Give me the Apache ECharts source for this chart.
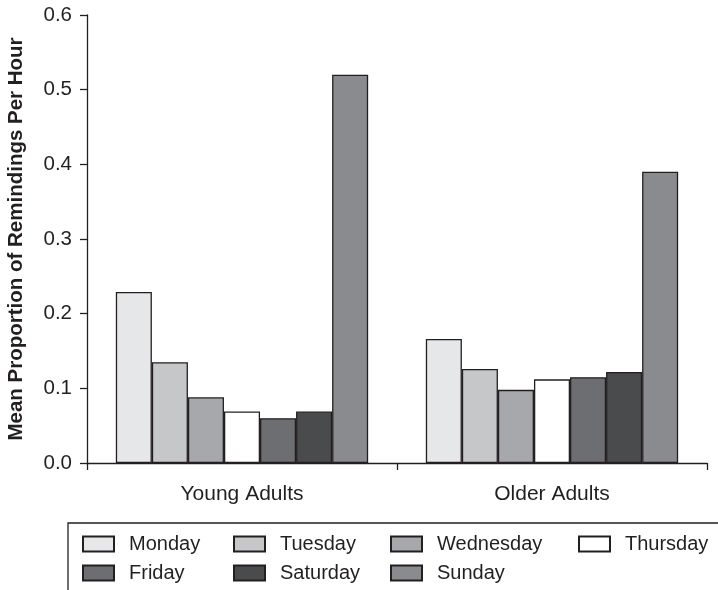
<!DOCTYPE html>
<html>
<head>
<meta charset="utf-8">
<script src="https://cdn.jsdelivr.net/npm/echarts@6/dist/echarts.min.js"></script>
<style>html,body{margin:0;padding:0;background:#fff}#c{width:718px;height:590px}</style>
</head>
<body>
<div id="c"></div>
<script>
const categories = ['Young Adults', 'Older Adults'];
const days = ['Monday', 'Tuesday', 'Wednesday', 'Thursday', 'Friday', 'Saturday', 'Sunday'];
const youngAdults = [0.229, 0.135, 0.088, 0.069, 0.060, 0.069, 0.520];
const olderAdults = [0.166, 0.126, 0.098, 0.112, 0.115, 0.122, 0.390];
const yTicks = ['0.0', '0.1', '0.2', '0.3', '0.4', '0.5', '0.6'];
const dayColors = ['#e6e7e9', '#c6c7c9', '#a7a8ab', '#ffffff', '#6d6e71', '#4a4b4d', '#8a8b8e'];

const FONT = 'Liberation Sans, Arial, Helvetica, sans-serif';
const INK = '#231f20';

const series = days.map((d, i) => ({
  name: d,
  type: 'bar',
  data: [youngAdults[i], olderAdults[i]],
  barGap: '0%',
  barCategoryGap: '18.6%',
  itemStyle: { color: dayColors[i], borderColor: INK, borderWidth: 1.3 },
  emphasis: { disabled: true }
}));

const legendCols = [['Monday', 'Friday'], ['Tuesday', 'Saturday'], ['Wednesday', 'Sunday'], ['Thursday']];
const legendLeft = [82, 233, 390, 578];
const legends = legendCols.map((cols, k) => ({
  orient: 'vertical',
  left: legendLeft[k],
  top: 534,
  icon: 'rect',
  itemWidth: 31,
  itemHeight: 15,
  itemGap: 9,
  selectedMode: false,
  padding: 0,
  data: cols,
  textStyle: { fontFamily: FONT, fontSize: 20, lineHeight: 20, color: INK, padding: [0, 0, 0, 10] }
}));

const chart = echarts.init(document.getElementById('c'), null, { renderer: 'canvas' });
chart.setOption({
  animation: false,
  backgroundColor: '#fff',
  grid: { left: 87, right: 11, top: 15, bottom: 127, containLabel: false, outerBoundsMode: 'none' },
  xAxis: {
    type: 'category',
    data: categories,
    axisLine: { lineStyle: { color: INK, width: 1.3 } },
    axisTick: { show: true, length: 7, lineStyle: { color: INK, width: 1.3 } },
    axisLabel: { fontFamily: FONT, fontSize: 21, color: INK, margin: 21 }
  },
  yAxis: {
    type: 'value',
    min: 0,
    max: 0.6,
    interval: 0.1,
    name: 'Mean Proportion of Remindings Per Hour',
    nameLocation: 'middle',
    nameGap: 60,
    nameTextStyle: { fontFamily: FONT, fontSize: 20.5, fontWeight: 'bold', color: INK },
    splitLine: { show: false },
    axisLine: { show: true, lineStyle: { color: INK, width: 1.3 } },
    axisTick: { show: true, length: 7, lineStyle: { color: INK, width: 1.3 } },
    axisLabel: {
      fontFamily: FONT, fontSize: 20.5, color: INK, margin: 15,
      formatter: v => yTicks[Math.round(v * 10)]
    }
  },
  legend: legends,
  graphic: [{
    type: 'rect',
    shape: { x: 68, y: 523, width: 700, height: 120 },
    style: { fill: 'none', stroke: INK, lineWidth: 1.3 },
    silent: true
  }],
  series: series
});
</script>
</body>
</html>
